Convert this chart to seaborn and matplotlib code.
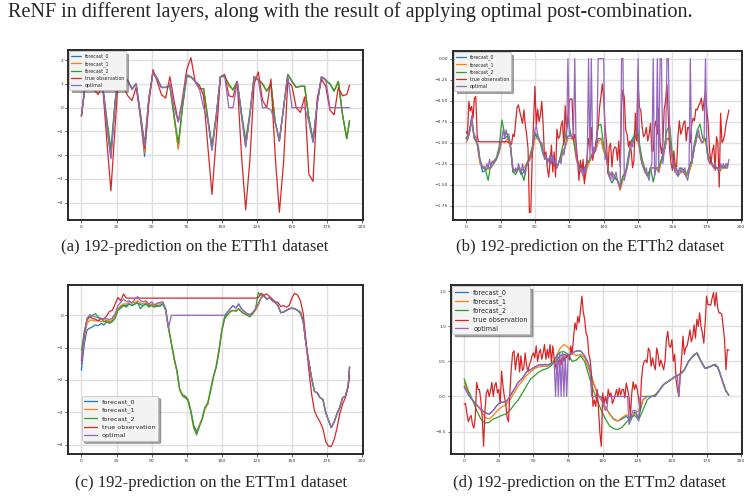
import matplotlib
matplotlib.use("Agg")
import matplotlib.pyplot as plt
import seaborn as sns

NAMES = ["forecast_0", "forecast_1", "forecast_2", "true observation", "optimal"]
COLORS = ["#1f77b4", "#ff7f0e", "#2ca02c", "#d62728", "#9467bd"]

# ---------------- (a) ETTh1 : step-3 index grid ----------------
a_t = list(range(0, 190, 3)) + [191]
a_true = [-0.35, 1.1, 1.25, 0.75, 0.55, 1.0, -1.3, -3.5, -0.8, 1.9,
          0.9, 0.5, 0.3, 0.85, -0.3, -1.7, 0.2, 1.6, 1.1, 0.55,
          0.4, 1.3, 0.3, -0.6, 0.4, 1.6, 2.1, 1.1, 0.95, 0.5,
          -1.6, -3.65, -1.3, 1.3, 1.4, 0.5, 0.45, 1.1, -2.0, -4.3,
          -2.2, 1.0, 1.5, 0.3, 0.0, 1.2, -2.0, -4.4, -2.3, 1.1,
          0.9, 0.0, -0.2, 0.45, -2.8, -3.1, 0.4, 1.2, 0.9, -0.1,
          -0.3, 0.85, 0.5, 0.55, 0.95]
a_f0 = [-0.35, 1.1, 1.2, 0.85, 0.75, 1.0, -0.7, -2.1, 0.2, 1.7,
        1.35, 1.15, 0.8, 1.0, -0.4, -2.05, 0.3, 1.5, 1.25, 0.85,
        0.85, 0.95, -0.4, -1.7, 0.1, 1.35, 1.3, 1.1, 0.8, 0.8,
        -0.5, -1.75, -0.4, 1.3, 1.35, 0.95, 0.75, 1.1, -0.3, -1.65,
        -0.3, 1.3, 1.2, 1.0, 0.7, 1.0, -0.6, -1.4, 0.0, 1.4,
        1.1, 0.85, 0.9, 0.9, -0.5, -1.45, 0.2, 1.3, 1.15, 1.0,
        0.7, 1.1, -0.3, -1.3, -0.55]
a_f1 = [-0.35, 1.1, 1.2, 0.85, 0.75, 1.0, -0.6, -1.95, 0.2, 1.7,
        1.35, 1.15, 0.8, 1.0, -0.35, -1.9, 0.3, 1.5, 1.2, 0.85,
        0.85, 0.95, -0.4, -1.75, 0.05, 1.35, 1.3, 1.1, 0.8, 0.8,
        -0.5, -1.75, -0.4, 1.3, 1.35, 0.9, 0.75, 1.1, -0.3, -1.6,
        -0.3, 1.3, 1.2, 1.0, 0.7, 1.0, -0.6, -1.4, 0.0, 1.4,
        1.1, 0.85, 0.9, 0.9, -0.45, -1.4, 0.2, 1.3, 1.15, 1.0,
        0.7, 1.1, -0.3, -1.3, -0.55]
a_f2 = [-0.35, 1.1, 1.15, 0.9, 0.75, 1.0, -0.4, -1.75, 0.3, 1.7,
        1.3, 1.1, 0.8, 1.0, -0.2, -1.55, 0.4, 1.45, 1.2, 0.85,
        0.85, 0.9, -0.3, -1.5, 0.0, 1.3, 1.3, 1.1, 0.8, 0.8,
        -0.4, -1.6, -0.3, 1.3, 1.3, 1.0, 0.75, 1.1, -0.2, -1.35,
        -0.2, 1.3, 1.15, 1.0, 0.7, 1.0, -0.6, -1.4, 0.0, 1.4,
        1.1, 0.85, 0.9, 0.9, -0.4, -1.35, 0.2, 1.3, 1.15, 1.0,
        0.7, 1.1, -0.3, -1.3, -0.55]
a_opt = [-0.35, 1.1, 1.2, 0.85, 0.75, 1.0, -0.7, -2.15, 0.2, 1.7,
         1.35, 1.15, 0.75, 1.0, -0.3, -1.6, 0.4, 1.5, 1.2, 0.85,
         0.85, 1.0, 0.0, -0.6, 0.3, 1.4, 1.3, 1.1, 0.8, 0.0,
         -0.5, -1.8, -0.4, 1.3, 1.35, 0.0, 0.0, 1.1, -0.3, -1.65,
         -0.3, 1.3, 1.2, 0.0, 0.0, -0.1, -0.6, -1.4, 0.0, 1.35,
         0.0, 0.0, 0.0, 0.0, -0.6, -1.45, 0.2, 1.3, 1.2, 0.0,
         0.0, 0.0, 0.0, 0.0, 0.0]

# ---------------- (b) ETTh2 ----------------
b_t1 = list(range(192))
b_t2 = list(range(0, 192, 2))
b_true = [-0.87, -0.9, -0.51, -0.62, -0.57, -0.71, -0.47, -0.45, -0.91, -0.99,
          -0.99, -0.99, -0.99, -0.99, -0.99, -0.99, -0.99, -0.99, -0.99, -0.99,
          -0.99, -0.99, -0.99, -0.99, -0.99, -0.99, -0.99, -0.99, -0.99, -0.99,
          -0.99, -1.0, -1.01, -1.02, -0.9, -0.93, -0.75, -0.58, -0.55, -0.63,
          -0.7, -0.77, -0.61, -0.79, -0.91, -1.07, -1.83, -1.83, -1.19, -0.75,
          -0.33, -0.79, -0.6, -0.75, -0.67, -0.51, -0.79, -1.19, -1.11, -1.3,
          -1.41, -1.23, -1.03, -1.35, -1.11, -1.41, -0.84, -0.95, -0.93, -0.8,
          -0.74, -1.03, -0.56, -0.86, -0.7, -0.5, -0.48, -0.48, -0.97, -0.9,
          -1.01, -1.2, -1.45, -1.21, -1.33, -1.2, -1.49, -1.3, -1.15, -0.95,
          -1.05, -0.82, -1.21, -1.1, -1.05, -0.91, -0.8, -0.58, -0.45, -0.3,
          -0.46, -0.82, -0.98, -1.37, -1.05, -1.01, -1.29, -1.1, -1.05, -1.06,
          -1.21, -0.98, -1.29, -0.54, -0.37, -0.47, -0.85, -0.9, -1.05, -0.98,
          -1.1, -1.3, -1.21, -0.65, -0.98, -0.31, -0.58, -0.62, -0.82, -0.93,
          -0.9, -0.82, -0.98, -0.9, -0.77, -1.1, -1.1, -0.82, -0.74, -0.9,
          -0.59, -1.0, -1.13, -1.0, -0.6, -0.5, -0.31, -0.7, -1.1, -1.25,
          -1.33, -1.1, -1.27, -1.29, -0.93, -0.74, -0.9, -0.85, -0.77, -0.74,
          -0.98, -0.82, -0.82, -1.0, -0.78, -0.71, -0.74, -0.6, -0.61, -0.56,
          -0.53, -0.47, -0.62, -0.5, -0.38, -0.62, -0.78, -1.1, -1.25, -1.1,
          -1.03, -1.33, -0.93, -1.0, -1.53, -0.65, -1.0, -0.97, -0.9, -0.77,
          -0.7, -0.61]
b_opt = [-0.95, -0.97, -0.9, -0.85, -0.68, -0.85, -0.95, -0.92, -1.0, -1.05,
         -1.2, -1.25, -1.3, -1.28, -1.32, -1.25, -1.3, -1.2, -1.3, -1.22,
         -1.25, -1.22, -1.2, -1.15, -1.1, -1.0, -0.95, -0.85, -0.95, -0.85,
         -0.9, -0.9, -1.0, -1.15, -1.3, -1.35, -1.3, -1.35, -1.25, -1.3,
         -1.35, -1.25, -1.35, -1.38, -1.25, -1.25, -1.2, -1.15, -1.1, -0.95,
         -0.85, -0.8, -0.9, -0.95, -1.0, -1.0, -1.1, -1.2, -1.15, -1.25,
         -1.2, -1.15, -1.25, -1.15, -1.25, -1.2, -1.3, -1.25, -1.2, -1.25,
         -1.1, -1.15, -1.05, -0.95, 0.0, -0.9, -0.9, -0.95, -0.92, 0.0,
         -1.15, -1.25, -1.3, -1.35, -1.3, -1.4, -1.3, -1.35, -1.25, 0.0,
         -1.2, 0.0, -1.15, -1.05, -1.1, -1.0, 0.0, 0.0, 0.0, 0.0,
         0.0, -1.2, -1.15, -1.3, -1.4, -1.45, -1.35, -1.45, -1.4, -1.35,
         -1.45, -1.5, -1.55, 0.0, 0.0, -1.45, -1.35, -1.3, -1.2, -1.1,
         -1.0, -1.05, -0.95, -0.95, -0.85, 0.0, -1.05, -1.2, -1.25, -1.3,
         -1.35, -1.3, -1.4, -1.45, -1.3, -1.25, 0.0, -1.4, -1.3, 0.0,
         -1.35, 0.0, 0.0, -1.25, -1.1, -1.0, 0.0, 0.0, -0.95, -1.1,
         -1.2, -1.3, -1.35, -1.3, -1.4, -1.3, -1.35, -1.3, -1.35, -1.3,
         -1.4, -1.45, -1.35, 0.0, -1.25, -1.15, -1.05, -1.0, -0.9, -0.85,
         -0.95, -1.0, -1.0, -0.95, 0.0, -1.1, -1.2, -1.25, -1.25, -1.25,
         -1.3, -1.25, -1.3, -1.3, -1.35, -1.25, -1.3, -1.25, -1.3, -1.25,
         -1.3, -1.2]
b_f0 = [-0.95, -0.9, -0.72, -0.95, -1.0, -1.22, -1.35, -1.33, -1.3, -1.3,
        -1.25, -1.2, -1.1, -0.95, -0.95, -0.92, -1.0, -1.35, -1.33, -1.3,
        -1.38, -1.35, -1.28, -1.2, -1.1, -0.9, -0.95, -1.0, -1.15, -1.18,
        -1.22, -1.25, -1.25, -1.3, -1.2, -1.1, -1.05, -0.92, -0.92, -0.95,
        -1.15, -1.3, -1.3, -1.3, -1.25, -1.2, -1.15, -1.1, -0.95, -0.95,
        -1.1, -1.15, -1.4, -1.35, -1.4, -1.45, -1.55, -1.4, -1.35, -1.2,
        -1.0, -0.95, -0.88, -1.05, -1.25, -1.35, -1.4, -1.3, -1.3, -1.3,
        -1.35, -1.2, -1.1, -0.95, -0.95, -1.2, -1.35, -1.4, -1.35, -1.35,
        -1.4, -1.35, -1.25, -1.05, -0.9, -0.95, -1.0, -0.95, -1.2, -1.25,
        -1.3, -1.3, -1.35, -1.3, -1.3, -1.3]
b_f1 = [-1.0, -0.92, -0.75, -0.95, -1.02, -1.25, -1.3, -1.3, -1.32, -1.28,
        -1.25, -1.2, -1.12, -0.98, -1.0, -0.95, -1.05, -1.3, -1.35, -1.3,
        -1.35, -1.3, -1.25, -1.22, -1.15, -0.95, -0.95, -1.0, -1.12, -1.2,
        -1.2, -1.22, -1.25, -1.28, -1.22, -1.12, -1.05, -0.95, -0.95, -0.97,
        -1.2, -1.3, -1.35, -1.45, -1.3, -1.22, -1.15, -1.1, -1.0, -0.95,
        -1.1, -1.2, -1.38, -1.35, -1.42, -1.45, -1.57, -1.45, -1.38, -1.22,
        -1.02, -0.98, -0.92, -1.08, -1.25, -1.35, -1.4, -1.32, -1.3, -1.3,
        -1.35, -1.22, -1.1, -0.95, -0.98, -1.2, -1.35, -1.38, -1.35, -1.35,
        -1.4, -1.35, -1.25, -1.05, -0.92, -0.95, -1.0, -0.95, -1.2, -1.25,
        -1.3, -1.3, -1.35, -1.3, -1.3, -1.3]
b_f2 = [-0.95, -0.9, -0.7, -0.95, -1.0, -1.2, -1.3, -1.32, -1.45, -1.25,
        -1.22, -1.18, -1.05, -0.73, -0.9, -0.9, -1.0, -1.35, -1.38, -1.3,
        -1.35, -1.45, -1.25, -1.18, -1.05, -0.88, -0.92, -1.0, -1.12, -1.18,
        -1.2, -1.22, -1.25, -1.3, -1.2, -1.05, -0.95, -0.7, -0.9, -0.95,
        -1.15, -1.28, -1.3, -1.35, -1.25, -1.2, -1.12, -1.05, -0.8, -0.78,
        -1.05, -1.15, -1.4, -1.48, -1.42, -1.45, -1.52, -1.4, -1.35, -1.15,
        -0.98, -0.92, -0.75, -1.02, -1.2, -1.32, -1.4, -1.3, -1.47, -1.3,
        -1.3, -1.2, -1.05, -0.85, -0.8, -1.15, -1.3, -1.35, -1.3, -1.32,
        -1.38, -1.3, -1.2, -1.0, -0.85, -0.78, -0.95, -0.95, -1.15, -1.22,
        -1.28, -1.3, -1.3, -1.28, -1.3, -1.25]

# ---------------- (c) ETTm1 : step-2 index grid ----------------
c_t = list(range(0, 192, 2)) + [191]
c_true = [-1.4, -0.6, -0.1, -0.05, -0.1, -0.12, -0.18, -0.1, -0.12, -0.02,
          0.12, 0.15, 0.35, 0.55, 0.45, 0.66, 0.53, 0.53, 0.53, 0.53,
          0.53, 0.53, 0.53, 0.53, 0.53, 0.53, 0.53, 0.53, 0.53, 0.53,
          0.53, 0.53, 0.53, 0.53, 0.53, 0.53, 0.53, 0.53, 0.53, 0.53,
          0.53, 0.53, 0.53, 0.53, 0.53, 0.53, 0.53, 0.53, 0.53, 0.53,
          0.53, 0.53, 0.53, 0.53, 0.53, 0.53, 0.53, 0.53, 0.53, 0.53,
          0.53, 0.53, 0.53, 0.55, 0.68, 0.62, 0.66, 0.58, 0.5, 0.42,
          0.4, 0.27, 0.3, 0.25, 0.3, 0.55, 0.68, 0.62, 0.45, 0.05,
          -0.8, -1.7, -2.45, -2.95, -3.15, -3.3, -3.5, -3.9, -4.05, -4.05,
          -3.85, -3.5, -3.05, -2.75, -2.55, -2.2, -1.85]
c_opt = [-1.5, -0.6, -0.1, 0.02, -0.02, -0.05, -0.08, -0.12, -0.12, -0.1,
         -0.15, -0.08, 0.05, 0.3, 0.4, 0.5, 0.42, 0.45, 0.38, 0.5,
         0.58, 0.45, 0.42, 0.45, 0.35, 0.42, 0.32, 0.38, 0.4, 0.42,
         0.2, -0.4, 0.0, 0.0, 0.0, 0.0, 0.0, 0.0, 0.0, 0.0,
         0.0, 0.0, 0.0, 0.0, 0.0, 0.0, 0.0, 0.0, 0.0, 0.0,
         0.0, 0.0, 0.1, 0.2, 0.3, 0.22, 0.35, 0.2, 0.12, 0.05,
         0.02, 0.08, 0.2, 0.35, 0.55, 0.6, 0.5, 0.55, 0.45, 0.4,
         0.3, 0.08, 0.1, 0.15, 0.2, 0.22, 0.2, 0.15, 0.1, -0.2,
         -0.9, -1.45, -1.95, -2.35, -2.4, -2.55, -2.6, -3.0, -3.25, -3.47,
         -3.3, -3.05, -2.85, -2.55, -2.5, -2.2, -1.6]
c_f0 = [-1.7, -0.9, -0.45, -0.4, -0.35, -0.3, -0.32, -0.25, -0.3, -0.2,
        -0.22, -0.15, 0.0, 0.2, 0.25, 0.32, 0.3, 0.35, 0.3, 0.35,
        0.38, 0.33, 0.3, 0.35, 0.3, 0.32, 0.28, 0.3, 0.28, 0.35,
        0.15, -0.4, -0.85, -1.35, -1.7, -2.3, -2.45, -2.5, -2.6, -2.95,
        -3.4, -3.6, -3.4, -3.2, -2.85, -2.75, -2.35, -1.9, -1.6, -1.1,
        -0.45, -0.05, 0.1, 0.2, 0.3, 0.22, 0.35, 0.2, 0.12, 0.05,
        0.02, 0.08, 0.2, 0.35, 0.55, 0.6, 0.5, 0.55, 0.45, 0.4,
        0.3, 0.08, 0.1, 0.15, 0.2, 0.22, 0.2, 0.15, 0.1, -0.2,
        -0.9, -1.45, -1.95, -2.35, -2.4, -2.55, -2.6, -3.0, -3.25, -3.47,
        -3.3, -3.05, -2.85, -2.55, -2.5, -2.2, -1.6]
c_f1 = [-1.4, -0.7, -0.25, -0.15, -0.15, -0.18, -0.15, -0.2, -0.2, -0.15,
        -0.2, -0.15, 0.0, 0.2, 0.3, 0.35, 0.35, 0.4, 0.38, 0.4,
        0.45, 0.38, 0.35, 0.4, 0.33, 0.35, 0.3, 0.35, 0.35, 0.4,
        0.15, -0.4, -0.85, -1.35, -1.75, -2.3, -2.45, -2.55, -2.6, -3.0,
        -3.5, -3.65, -3.4, -3.2, -2.9, -2.75, -2.3, -1.95, -1.55, -1.05,
        -0.45, -0.1, 0.0, 0.1, 0.15, 0.15, 0.2, 0.12, 0.05, 0.02,
        -0.02, 0.05, 0.15, 0.3, 0.55, 0.6, 0.5, 0.55, 0.45, 0.4,
        0.3, 0.08, 0.1, 0.15, 0.2, 0.22, 0.2, 0.15, 0.1, -0.2,
        -0.9, -1.45, -1.95, -2.35, -2.4, -2.55, -2.6, -3.0, -3.25, -3.47,
        -3.3, -3.05, -2.85, -2.55, -2.5, -2.2, -1.6]
c_f2 = [-1.1, -0.5, -0.15, -0.05, 0.0, 0.05, -0.05, -0.1, -0.18, -0.2,
        -0.25, -0.2, -0.1, 0.15, 0.22, 0.3, 0.25, 0.35, 0.3, 0.35,
        0.4, 0.2, 0.3, 0.35, 0.25, 0.3, 0.25, 0.28, 0.3, 0.35,
        0.2, -0.35, -0.85, -1.3, -1.7, -2.3, -2.5, -2.55, -2.65, -3.0,
        -3.45, -3.7, -3.45, -3.2, -2.85, -2.7, -2.3, -1.9, -1.6, -1.1,
        -0.5, -0.1, 0.02, 0.12, 0.15, 0.12, 0.2, 0.1, 0.05, 0.0,
        -0.05, 0.05, 0.2, 0.7, 0.62, 0.6, 0.5, 0.55, 0.45, 0.4,
        0.3, 0.08, 0.1, 0.15, 0.2, 0.22, 0.2, 0.15, 0.05, -0.2,
        -0.9, -1.45, -1.95, -2.35, -2.4, -2.55, -2.6, -3.0, -3.25, -3.47,
        -3.3, -3.05, -2.85, -2.55, -2.5, -2.2, -1.6]

# ---------------- (d) ETTm2 ----------------
d_t1 = list(range(192))
d_t3 = list(range(0, 190, 3)) + [191]
d_true = [-0.11, -0.1, -0.25, -0.36, -0.3, -0.27, -0.4, -0.45, -0.3, 0.2,
          0.1, 0.1, -0.05, -0.3, -0.71, -0.2, 0.05, 0.1, 0.0, 0.08,
          0.2, 0.0, 0.15, 0.2, 0.05, 0.1, -0.1, 0.36, 0.15, 0.0,
          -0.1, -0.3, -0.36, 0.05, 0.39, 0.62, 0.65, 0.38, 0.55, 0.62,
          0.35, 0.58, 0.37, 0.4, 0.62, 0.45, 0.35, 0.45, 0.5, 0.58,
          0.62, 0.55, 0.72, 0.5, 0.62, 0.67, 0.53, 0.62, 0.74, 0.53,
          0.67, 0.55, 0.74, 0.48, 0.72, 0.53, 0.43, 0.35, 0.5, 0.55,
          0.45, 0.6, 0.5, 0.58, 0.55, 0.6, 0.52, 0.72, 0.6, 0.85,
          1.05, 0.95, 1.14, 1.05, 1.24, 1.43, 1.2, 1.1, 0.9, 0.85,
          0.6, 0.52, 0.29, -0.14, -0.05, -0.14, 0.1, -0.19, -0.52, -0.71,
          0.05, -0.1, 0.0, -0.1, 0.1, 0.0, 0.05, -0.1, -0.05, 0.02,
          0.1, 0.0, 0.12, 0.02, 0.1, 0.1, -0.02, 0.19, 0.1, 0.0,
          -0.29, 0.05, 0.21, 0.1, 0.17, 0.1, -0.05, -0.19, 0.24, 0.43,
          0.5, 0.52, 0.48, 0.69, 0.65, 0.43, 0.55, 0.45, 0.38, 0.69,
          0.6, 0.43, 0.52, 0.45, 0.38, 0.5, 0.81, 0.93, 0.72, 0.7,
          0.81, 0.5, 0.6, 0.24, 0.1, 0.0, 0.3, 0.55, 0.86, 0.6,
          0.7, 0.72, 0.83, 0.95, 0.78, 0.85, 1.02, 0.83, 1.1, 1.0,
          1.19, 1.0, 0.9, 0.76, 1.05, 1.43, 1.31, 1.31, 1.3, 1.4,
          1.48, 1.29, 1.48, 1.27, 1.19, 1.19, 1.17, 1.0, 0.81, 0.38,
          0.67, 0.66]
d_opt = [0.13, 0.1, 0.06, 0.02, 0.0, -0.03, -0.05, -0.07, -0.1, -0.12,
         -0.14, -0.16, -0.18, -0.2, -0.22, -0.23, -0.24, -0.25, -0.25, -0.24,
         -0.22, -0.2, -0.17, -0.14, -0.12, -0.1, -0.08, -0.08, -0.08, -0.08,
         -0.08, -0.06, -0.03, 0.0, 0.04, 0.07, 0.1, 0.13, 0.17, 0.2,
         0.22, 0.24, 0.26, 0.28, 0.32, 0.35, 0.37, 0.38, 0.38, 0.4,
         0.41, 0.42, 0.43, 0.44, 0.45, 0.45, 0.45, 0.45, 0.46, 0.46,
         0.45, 0.45, 0.46, 0.47, 0.47, 0.47, 0.0, 0.6, 0.0, 0.62,
         0.0, 0.62, 0.0, 0.6, 0.0, 0.55, 0.6, 0.62, 0.62, 0.63,
         0.64, 0.65, 0.65, 0.65, 0.65, 0.63, 0.6, 0.58, 0.54, 0.5,
         0.45, 0.35, 0.0, 0.0, 0.0, 0.0, 0.0, 0.0, 0.0, 0.0,
         -0.1, -0.15, -0.2, -0.18, 0.0, 0.0, 0.0, 0.0, 0.0, 0.0,
         0.0, 0.0, 0.0, 0.0, 0.0, 0.0, 0.0, 0.0, 0.0, -0.4,
         -0.35, -0.25, -0.2, -0.2, -0.2, -0.3, -0.35, 0.0, 0.0, 0.0,
         0.0, 0.0, 0.0, 0.0, 0.0, 0.0, 0.0, 0.0, 0.0, 0.03,
         0.06, 0.09, 0.12, 0.15, 0.17, 0.19, 0.2, 0.21, 0.22, 0.24,
         0.25, 0.27, 0.28, 0.29, 0.3, 0.0, 0.32, 0.33, 0.35, 0.38,
         0.42, 0.46, 0.5, 0.53, 0.55, 0.57, 0.6, 0.61, 0.62, 0.6,
         0.55, 0.5, 0.47, 0.43, 0.4, 0.4, 0.41, 0.42, 0.43, 0.44,
         0.45, 0.46, 0.45, 0.42, 0.38, 0.32, 0.25, 0.18, 0.12, 0.08,
         0.05, 0.02]
d_f0 = [0.15, 0.03, -0.05, -0.12, -0.18, -0.23, -0.25, -0.2, -0.12, -0.08,
        -0.08, 0.0, 0.1, 0.2, 0.26, 0.35, 0.38, 0.42, 0.45, 0.45,
        0.45, 0.47, 0.5, 0.58, 0.6, 0.58, 0.62, 0.65, 0.65, 0.58,
        0.45, 0.2, 0.05, -0.05, -0.15, -0.25, -0.32, -0.35, -0.32, -0.28,
        -0.35, -0.22, -0.3, -0.05, 0.0, 0.0, 0.02, 0.09, 0.17, 0.21,
        0.25, 0.29, 0.32, 0.38, 0.5, 0.57, 0.62, 0.5, 0.4, 0.42,
        0.45, 0.42, 0.25, 0.08, 0.02]
d_f1 = [0.2, 0.05, -0.05, -0.12, -0.2, -0.3, -0.32, -0.27, -0.2, -0.15,
        -0.12, -0.05, 0.05, 0.15, 0.22, 0.3, 0.35, 0.4, 0.42, 0.43,
        0.43, 0.46, 0.55, 0.68, 0.74, 0.7, 0.62, 0.58, 0.6, 0.55,
        0.38, 0.22, 0.05, -0.05, -0.15, -0.25, -0.33, -0.35, -0.3, -0.26,
        -0.3, -0.25, -0.2, -0.05, 0.0, 0.0, 0.02, 0.09, 0.17, 0.21,
        0.25, 0.29, 0.32, 0.38, 0.5, 0.57, 0.62, 0.5, 0.4, 0.42,
        0.45, 0.42, 0.25, 0.08, 0.02]
d_f2 = [0.25, 0.08, -0.05, -0.2, -0.32, -0.38, -0.37, -0.32, -0.3, -0.27,
        -0.25, -0.2, -0.12, -0.05, 0.05, 0.15, 0.25, 0.3, 0.35, 0.38,
        0.4, 0.44, 0.55, 0.63, 0.64, 0.6, 0.5, 0.52, 0.58, 0.5,
        0.3, 0.1, -0.05, -0.2, -0.32, -0.42, -0.46, -0.47, -0.44, -0.37,
        -0.3, -0.27, -0.33, -0.2, -0.05, 0.0, 0.02, 0.09, 0.17, 0.21,
        0.25, 0.29, 0.32, 0.38, 0.5, 0.57, 0.62, 0.5, 0.4, 0.42,
        0.45, 0.42, 0.25, 0.08, 0.02]

TOP_TEXT = "ReNF in different layers, along with the result of applying optimal post-combination."
CAPTIONS = ["(a) 192-prediction on the ETTh1 dataset",
            "(b) 192-prediction on the ETTh2 dataset",
            "(c) 192-prediction on the ETTm1 dataset",
            "(d) 192-prediction on the ETTm2 dataset"]

sns.set_theme(style="whitegrid", rc={
    "grid.color": "#e0e0e0",
    "grid.linewidth": 1.0,
    "axes.edgecolor": "#2a2a2a",
    "axes.linewidth": 1.4,
    "xtick.bottom": True,
    "ytick.left": True,
})
plt.rcParams["font.family"] = ["DejaVu Sans"]


def draw(ax, xs, ys, leg):
    for x, y, name, c in zip(xs, ys, NAMES, COLORS):
        sns.lineplot(x=x, y=y, ax=ax, color=c, label=name, linewidth=0.9)
    ax.set_xticks(range(0, 201, 25))
    ax.set_xlabel("")
    ax.set_ylabel("")
    ax.tick_params(labelsize=3.2, length=2, width=0.5, pad=1.5,
                   colors="#333333")
    lg = ax.legend(frameon=True, shadow=True, framealpha=1,
                   facecolor="#f3f3f3", edgecolor="#bbbbbb",
                   borderpad=0.4, labelspacing=0.4, **leg)
    lg.get_frame().set_linewidth(0.5)


fig = plt.figure(figsize=(7.54, 4.98), dpi=100)
ax_a = fig.add_axes([0.0902, 0.5582, 0.3912, 0.3414])
ax_b = fig.add_axes([0.6008, 0.5582, 0.3833, 0.3394])
ax_c = fig.add_axes([0.0902, 0.0884, 0.3912, 0.3394])
ax_d = fig.add_axes([0.5981, 0.0884, 0.3859, 0.3394])

draw(ax_a, [a_t, a_t, a_t, a_t, a_t], [a_f0, a_f1, a_f2, a_true, a_opt],
     dict(loc="upper left", fontsize=3.4, borderaxespad=0.3))
draw(ax_b, [b_t2, b_t2, b_t2, b_t1, b_t1], [b_f0, b_f1, b_f2, b_true, b_opt],
     dict(loc="upper left", fontsize=3.4, borderaxespad=0.3))
draw(ax_c, [c_t, c_t, c_t, c_t, c_t], [c_f0, c_f1, c_f2, c_true, c_opt],
     dict(loc="lower left", bbox_to_anchor=(0.035, 0.06), fontsize=4.6))
draw(ax_d, [d_t3, d_t3, d_t3, d_t1, d_t1], [d_f0, d_f1, d_f2, d_true, d_opt],
     dict(loc="upper left", fontsize=4.7, borderaxespad=0.2))

serif = ["Liberation Serif", "DejaVu Serif"]
fig.text(0.011, 0.976, TOP_TEXT, family=serif, fontsize=14.5, va="center")
fig.text(0.258, 0.504, CAPTIONS[0], family=serif, fontsize=12, ha="center", va="center")
fig.text(0.782, 0.504, CAPTIONS[1], family=serif, fontsize=12, ha="center", va="center")
fig.text(0.280, 0.030, CAPTIONS[2], family=serif, fontsize=12, ha="center", va="center")
fig.text(0.782, 0.030, CAPTIONS[3], family=serif, fontsize=12, ha="center", va="center")

fig.savefig("out.png", dpi=100)
